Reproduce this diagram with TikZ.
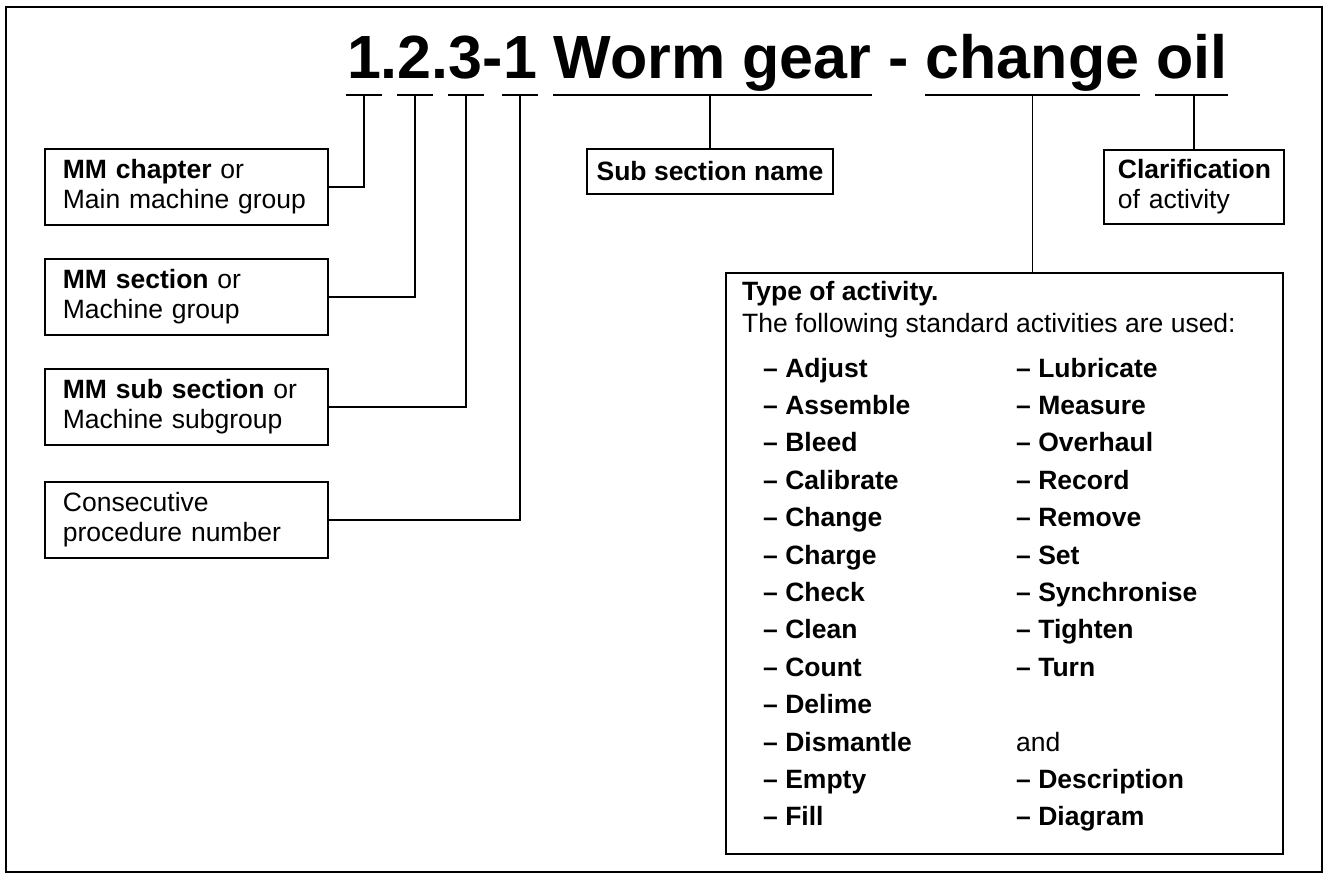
\documentclass[tikz,border=0pt]{standalone}
\usepackage{fontspec}
\setmainfont{Liberation Sans}
\begin{document}
\begin{tikzpicture}[x=1bp,y=-1bp,
  ln/.style={line width=1.8bp, line cap=rect},
  ttl/.style={inner sep=0pt, outer sep=0pt, anchor=base west, font=\fontsize{61bp}{61bp}\selectfont\bfseries},
  lbox/.style={draw, line width=1.8bp, minimum width=283bp, minimum height=76bp, text width=247bp,
     inner xsep=18bp, inner ysep=0pt, align=left, anchor=north west, font=\fontsize{26.5bp}{30bp}\selectfont},
  txt/.style={inner sep=0pt, anchor=base west, font=\fontsize{26.5bp}{30bp}\selectfont},
  item/.style={txt, font=\fontsize{26.5bp}{30bp}\selectfont\bfseries}
]
\useasboundingbox (0,0) rectangle (1327,879);
\fill[white] (0,0) rectangle (1327,879);
\draw[ln] (6,7) rectangle (1322,872);

% title pieces
\def\sp{17bp}
\node[ttl, anchor=base] (n1) at (364,78) {1};
\node[ttl] (d1) at (n1.base east) {.};
\node[ttl] (n2) at (d1.base east) {2};
\node[ttl] (d2) at (n2.base east) {.};
\node[ttl] (n3) at (d2.base east) {3};
\node[ttl] (hy) at (n3.base east) {-};
\node[ttl] (n4) at (hy.base east) {1};
\node[ttl] (wg) at ([xshift=\sp]n4.base east) {Worm gear};
\node[ttl] (ds) at ([xshift=\sp]wg.base east) {-};
\node[ttl] (chg) at ([xshift=\sp]ds.base east) {change};
\node[ttl] (oil) at ([xshift=\sp]chg.base east) {oil};

\coordinate (ul) at (0,95);
\foreach \n in {n1,n2,n3,n4,wg,chg,oil}
  \draw[ln] (\n.west |- ul) -- (\n.east |- ul);

% left boxes
\node[lbox] (mm1) at (44,148) {\textbf{MM chapter} or\\Main machine group};
\node[lbox] (mm2) at (44,258) {\textbf{MM section} or\\Machine group};
\node[lbox] (mm3) at (44,368) {\textbf{MM sub section} or\\Machine subgroup};
\node[lbox] (mm4) at (44,481) {Consecutive\\procedure number};

\draw[ln] (mm1.east) -| (n1 |- ul);
\draw[ln] (mm2.east) -| (n2 |- ul);
\draw[ln] (mm3.east) -| (n3 |- ul);
\draw[ln] (mm4.east) -| (n4 |- ul);

% sub section name
\node[draw, line width=1.8bp, minimum width=246bp, minimum height=45bp, inner sep=0pt, anchor=north,
      font=\fontsize{26.5bp}{30bp}\selectfont\bfseries] (ssn) at (710,148) {Sub section name};
\draw[ln] (ssn.north) -- (ssn.north |- ul);

% clarification
\node[lbox, minimum width=180bp, minimum height=74bp, text width=152bp, inner xsep=14bp] (clar) at (1103,149)
  {\textbf{Clarification}\\of activity};
\draw[ln] (clar.north) -- (clar.north |- ul);

% type of activity
\node[draw, line width=1.8bp, minimum width=557bp, minimum height=581bp, anchor=north west, inner sep=0pt] (tbox) at (725,272) {};
\draw[ln] (chg |- ul) -- (chg |- tbox.north);

\node[item] (tya) at (742,300) {Type of activity.};
\node[txt] (tfo) at (742,332) {The following standard activities are used:};

\foreach \w [count=\i] in {Adjust,Assemble,Bleed,Calibrate,Change,Charge,Check,Clean,Count,Delime,Dismantle,Empty,Fill}
  \node[item] (L\i) at (763,{377+37.4*(\i-1)}) {– \w};
\foreach \w [count=\i] in {Lubricate,Measure,Overhaul,Record,Remove,Set,Synchronise,Tighten,Turn}
  \node[item] (R\i) at (1016,{377+37.4*(\i-1)}) {– \w};
\node[txt] (and) at (1016,{377+37.4*10}) {and};
\node[item] (R11) at (1016,{377+37.4*11}) {– Description};
\node[item] (R12) at (1016,{377+37.4*12}) {– Diagram};
\end{tikzpicture}
\end{document}
